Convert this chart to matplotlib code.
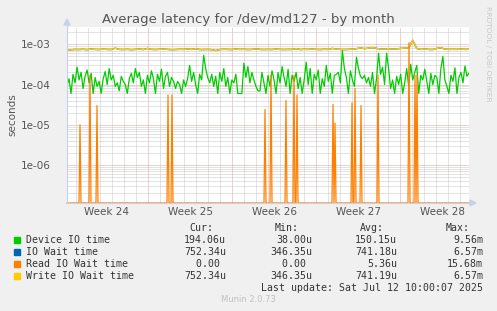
"""Munin: average latency for /dev/md127 - by month"""

import numpy as np
import matplotlib
matplotlib.use('Agg')
import matplotlib.pyplot as plt
from matplotlib.ticker import LogLocator, FixedLocator, NullFormatter, MultipleLocator
from matplotlib.patches import Rectangle

# x axis is in days since Mon Jun 9 2025 00:00
weeks = ['Week 24', 'Week 25', 'Week 26', 'Week 27', 'Week 28']
week_mid_days = [3.5, 10.5, 17.5, 24.5, 31.5]
week_start_days = [7, 14, 21, 28]
day_first, day_last = 0.25, 33.75

# Device IO time (microseconds), one value every 4 hours
device_io = [
    95, 140, 60, 180, 110, 270, 130, 200, 80, 160, 230, 110, 190, 60, 150, 90, 120, 60, 140, 210,
    100, 250, 130, 170, 90, 110, 70, 160, 120, 100, 60, 140, 190, 110, 250, 150, 200, 90, 130, 60,
    170, 110, 220, 140, 60, 180, 120, 240, 80, 160,
    200, 90, 150, 120, 80, 120, 100, 60, 130, 90, 140, 300, 120, 200, 100, 60, 180, 130, 530, 250,
    150, 110, 180, 90, 160, 60, 200, 120, 250, 90, 150, 60, 130, 110, 180, 60, 60, 60, 340, 150,
    280, 110, 200, 130, 90, 70, 70, 200, 110, 60,
    170, 90, 220, 130, 60, 200, 110, 280, 150, 90, 240, 60, 170, 120, 200, 80, 150, 60, 130, 360,
    100, 250, 60, 180, 130, 230, 60, 140, 90, 300, 120, 190, 60, 170, 180, 200, 110, 700, 250, 150,
    60, 220, 130, 90, 480, 250, 160, 140, 170, 110,
    150, 90, 200, 60, 140, 600, 180, 270, 100, 600, 250, 80, 130, 60, 160, 100, 180, 60, 110, 250,
    90, 320, 130, 200, 300, 60, 170, 130, 240, 120, 60, 190, 100, 170, 150, 60, 250, 500, 130, 90,
    60, 170, 120, 260, 60, 150, 200, 110, 290, 160, 194,
]

# Write IO Wait time (microseconds), one value every 8 hours
write_wait = [
    700, 730, 745, 740, 750, 735, 760, 745, 740, 755,
    745, 740, 800, 745, 740, 750, 735, 745, 760, 740,
    790, 745, 740, 750, 760, 745, 735, 740, 750, 745,
    760, 745, 780, 740, 740, 745, 735, 700, 740, 750,
    745, 740, 760, 745, 750, 740, 745, 770, 745, 740,
    745, 740, 760, 745, 740, 745, 745, 780, 740, 750,
    745, 760, 745, 740, 750, 745, 790, 760, 745, 740,
    745, 760, 780, 810, 780, 800, 830, 790, 760, 760,
    780, 760, 770, 790, 800, 820, 1260, 790, 745, 760,
    745, 740, 790, 820, 760, 745, 750, 745, 760, 745,
    752,
]
# IO Wait time is practically the same as the write wait
io_wait = list(write_wait)

# Read IO Wait time: zero except these short bursts (day, seconds)
read_days = [1.36, 2.19, 2.75, 8.69, 9.03, 16.79, 17.21, 18.52, 19.18, 19.43,
             22.44, 22.61, 24.03, 24.28, 24.79, 26.18, 28.77, 29.25, 29.39]
read_peaks = [1e-5, 1.7e-4, 3e-5, 5.5e-5, 5.5e-5, 2.4e-5, 1.7e-4, 4e-5, 1.7e-4, 5.5e-5,
              3.2e-5, 1.1e-5, 3.5e-5, 8e-5, 3e-5, 1.7e-4, 1.1e-3, 1.7e-4, 1.7e-4]

legend_names = ['Device IO time', 'IO Wait time', 'Read IO Wait time', 'Write IO Wait time']
legend_colors = ['#00CC00', '#0066B3', '#FF8000', '#FFCC00']
cur = ['194.06u', '752.34u', '0.00 ', '752.34u']
vmin = ['38.00u', '346.35u', '0.00 ', '346.35u']
avg = ['150.15u', '741.18u', '5.36u', '741.19u']
vmax = ['9.56m', '6.57m', '15.68m', '6.57m']

ymin, ymax = 1.14e-7, 2.69e-3
W, H = 497, 311

fig = plt.figure(figsize=(W / 100, H / 100), dpi=100, facecolor='#F0F0F0')
ax = fig.add_axes([67 / W, 108 / H, 402 / W, 176 / H])
ax.set_facecolor('white')


def fx(px):
    return px / W


def fy(py):
    return 1 - py / H


# series
t_dev = np.linspace(day_first, day_last, len(device_io))
t_wait = np.linspace(day_first, day_last, len(write_wait))
t_read = day_first + np.arange(int((day_last - day_first) * 12) + 1) / 12
read = np.zeros_like(t_read)
for d, p in zip(read_days, read_peaks):
    read[int(round((d - day_first) * 12))] = p
read = np.maximum(read, ymin)

ax.plot(t_dev, np.array(device_io) * 1e-6, color=legend_colors[0], lw=0.9, zorder=3)
ax.plot(t_wait, np.array(io_wait) * 1e-6, color=legend_colors[1], lw=1.0, zorder=3)
ax.plot(t_read, read, color=legend_colors[2], lw=0.9, zorder=6, clip_on=False)
ax.plot(t_wait, np.array(write_wait) * 1e-6, color=legend_colors[3], lw=1.0, zorder=5)

ax.set_yscale('log')
ax.set_ylim(ymin, ymax)
ax.set_xlim(day_first, day_last)

# grid
ax.yaxis.set_minor_locator(LogLocator(base=10, subs=np.arange(2, 10), numticks=50))
ax.yaxis.set_minor_formatter(NullFormatter())
ax.set_yticks([1e-6, 1e-5, 1e-4, 1e-3])
ax.set_yticklabels(['1e-06', '1e-05', '1e-04', '1e-03'])
ax.xaxis.set_major_locator(FixedLocator(week_start_days))
ax.xaxis.set_minor_locator(MultipleLocator(1))
ax.set_xticklabels([])
dot = (0, (1, 1))
ax.grid(which='minor', color='#c8c8c8', lw=0.72, ls=dot)
ax.grid(which='major', color='#e4a0a0', lw=0.72, ls=dot)
ax.set_axisbelow(True)
ax.tick_params(which='both', length=0, labelsize=7.5, labelcolor='#555555', pad=12)
for s in ax.spines.values():
    s.set_visible(False)

for lab, d in zip(weeks, week_mid_days):
    ax.text(d, -0.053, lab, transform=ax.get_xaxis_transform(), ha='center', va='center',
            fontsize=7.5, color='#555555')

# axis arrows
fig.add_artist(plt.Line2D([fx(67), fx(474)], [fy(203), fy(203)], color='#c8d0ee', lw=0.8))
fig.add_artist(plt.Line2D([fx(67), fx(67)], [fy(203), fy(22)], color='#c8d0ee', lw=0.8))
fig.patches.append(plt.Polygon([[fx(470), fy(200)], [fx(476), fy(203)], [fx(470), fy(206)]],
                               closed=True, color='#c8d0ee', transform=fig.transFigure))
fig.patches.append(plt.Polygon([[fx(64), fy(25)], [fx(67), fy(19)], [fx(70), fy(25)]],
                               closed=True, color='#c8d0ee', transform=fig.transFigure))

# texts
fig.text(fx(248), fy(19), 'Average latency for /dev/md127 - by month', ha='center', va='center',
         fontsize=9.5, color='#555555')
fig.text(fx(12), fy(115), 'seconds', rotation=90, ha='center', va='center',
         fontsize=7.5, color='#555555')
fig.text(fx(488), fy(54), 'RRDTOOL / TOBI OETIKER', rotation=270, ha='center', va='center',
         fontsize=5.4, color='#c8c8c8')
fig.text(fx(248), fy(300), 'Munin 2.0.73', ha='center', va='center', fontsize=6, color='#c0c0c0')

mono = dict(family='DejaVu Sans Mono', fontsize=7.1, color='#333333', va='center')
for hdr, xr in zip(['Cur:', 'Min:', 'Avg:', 'Max:'], [213, 299, 384, 470]):
    fig.text(fx(xr), fy(228), hdr, ha='right', **mono)
for i, name in enumerate(legend_names):
    y = 240 + 12 * i
    fig.patches.append(Rectangle((fx(14), fy(y + 3)), 6 / W, 6 / H, color=legend_colors[i],
                                 transform=fig.transFigure))
    fig.text(fx(26), fy(y), name, ha='left', **mono)
    for col, xr in zip([cur, vmin, avg, vmax], [226, 312, 397, 483]):
        fig.text(fx(xr), fy(y), col[i], ha='right', **mono)
fig.text(fx(483), fy(288), 'Last update: Sat Jul 12 10:00:07 2025', ha='right', **mono)

fig.savefig('out.png', dpi=100, facecolor=fig.get_facecolor())
